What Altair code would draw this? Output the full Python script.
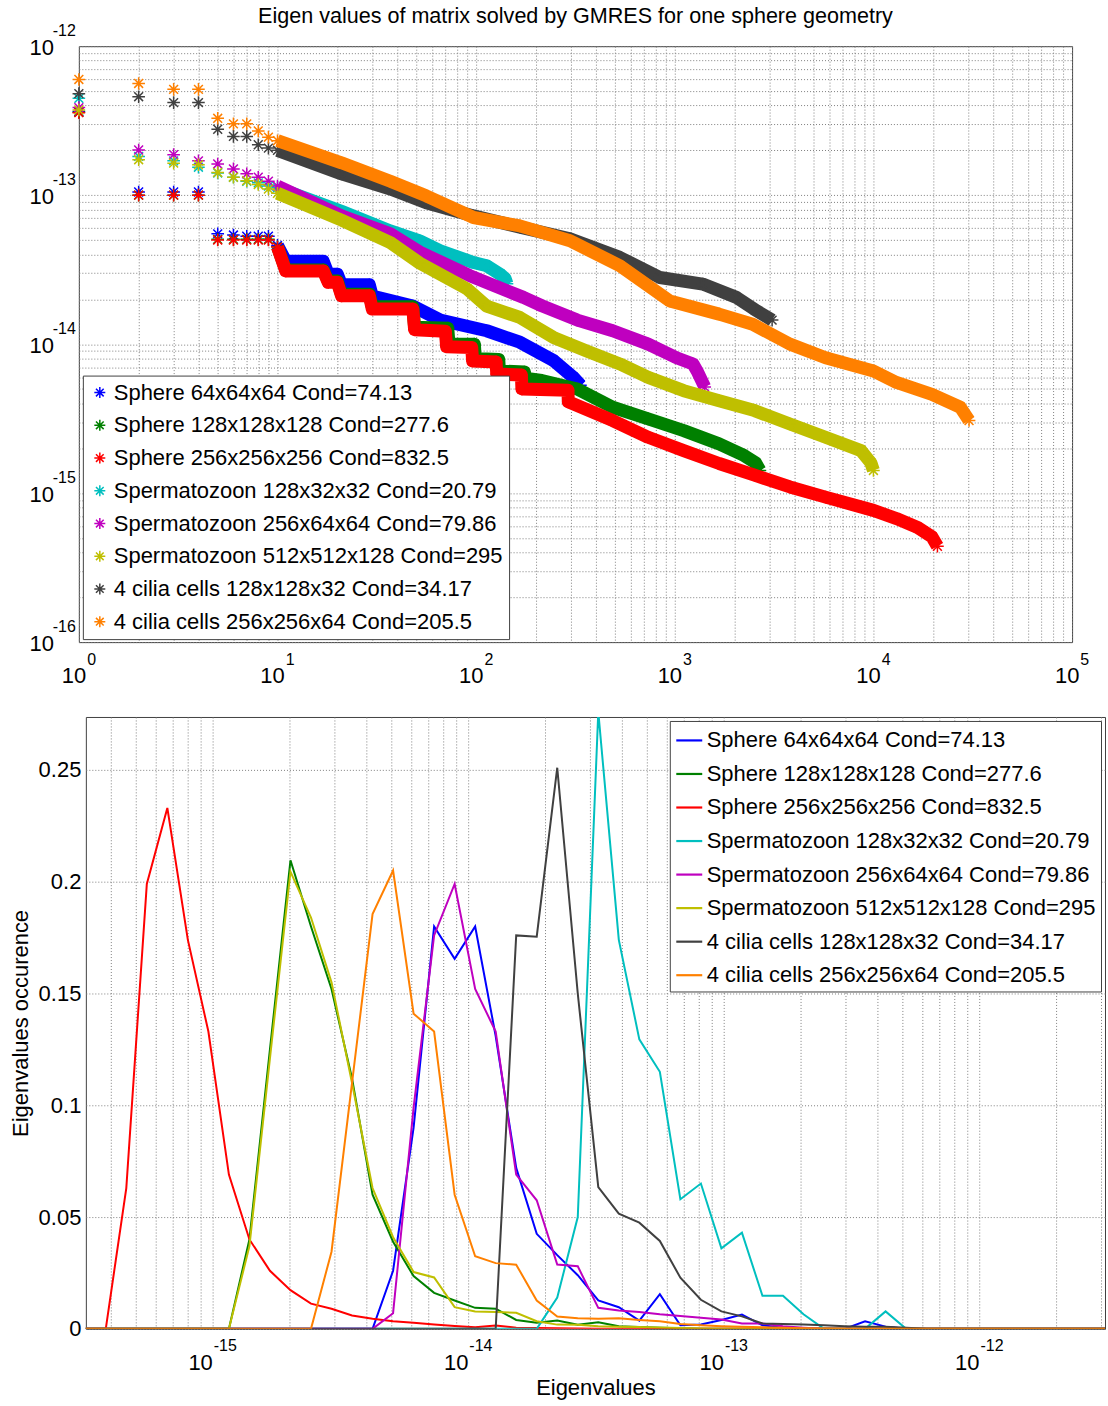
import altair as alt
import pandas as pd

FONT = "Liberation Sans"
TITLE = "Eigen values of matrix solved by GMRES for one sphere geometry"

SERIES = [
    "Sphere 64x64x64 Cond=74.13",
    "Sphere 128x128x128 Cond=277.6",
    "Sphere 256x256x256 Cond=832.5",
    "Spermatozoon 128x32x32 Cond=20.79",
    "Spermatozoon 256x64x64 Cond=79.86",
    "Spermatozoon 512x512x128 Cond=295",
    "4 cilia cells 128x128x32 Cond=34.17",
    "4 cilia cells 256x256x64 Cond=205.5",
]
COLORS = ["#0000ff", "#008000", "#ff0000", "#00bfbf", "#bf00bf", "#bfbf00", "#404040", "#ff8000"]

# ---------------- top panel: sorted eigenvalues (index, value)
IDX_S64 = [1, 2, 3, 4, 5, 6, 7, 8, 9, 10, 11, 17, 18, 20, 21, 29, 30, 48, 66, 113, 166, 245, 308, 335]
VAL_S64 = [3.64e-13, 1.05e-13, 1.05e-13, 1.05e-13, 5.5e-14, 5.4e-14, 5.3e-14, 5.3e-14, 5.3e-14, 4.6e-14,
           3.6e-14, 3.6e-14, 2.95e-14, 2.95e-14, 2.5e-14, 2.5e-14, 2.1e-14, 1.8e-14, 1.45e-14, 1.23e-14,
           1.03e-14, 7.76e-15, 6.0e-15, 5.3e-15]

IDX_S128 = [1, 2, 3, 4, 5, 6, 7, 8, 9, 10, 11, 17, 18, 20, 21, 29, 30, 48, 49, 72, 73, 98, 99, 130, 131,
            175, 176, 214, 323, 487, 735, 1109, 1672, 2230, 2550, 2683]
VAL_S128 = [3.6e-13, 1.0e-13, 1.0e-13, 1.0e-13, 5.05e-14, 5.05e-14, 5.05e-14, 5.05e-14, 5.05e-14, 4.5e-14,
            3.15e-14, 3.15e-14, 2.65e-14, 2.65e-14, 2.16e-14, 2.16e-14, 1.78e-14, 1.78e-14, 1.3e-14, 1.28e-14,
            1.0e-14, 1.0e-14, 8.0e-15, 7.9e-15, 6.6e-15, 6.5e-15, 5.9e-15, 5.7e-15, 5.0e-15, 3.77e-15,
            3.15e-15, 2.63e-15, 2.14e-15, 1.79e-15, 1.6e-15, 1.42e-15]

IDX_S256 = [1, 2, 3, 4, 5, 6, 7, 8, 9, 10, 11, 17, 18, 20, 21, 29, 30, 48, 49, 70, 71, 95, 96, 126, 127,
            169, 170, 290, 291, 487, 735, 1109, 1672, 2520, 3800, 5740, 10000, 13060, 16700, 19700, 21000]
VAL_S256 = [3.58e-13, 1.0e-13, 1.0e-13, 1.0e-13, 5.0e-14, 5.0e-14, 5.0e-14, 5.0e-14, 5.0e-14, 4.48e-14,
            3.1e-14, 3.1e-14, 2.6e-14, 2.6e-14, 2.11e-14, 2.11e-14, 1.72e-14, 1.72e-14, 1.25e-14, 1.22e-14,
            9.6e-15, 9.5e-15, 7.7e-15, 7.6e-15, 6.3e-15, 6.2e-15, 5.0e-15, 4.9e-15, 4.1e-15, 3.07e-15,
            2.37e-15, 1.93e-15, 1.58e-15, 1.32e-15, 1.1e-15, 9.4e-16, 7.66e-16, 6.75e-16, 5.88e-16, 5.1e-16,
            4.4e-16]

IDX_SP128 = [1, 2, 3, 4, 5, 6, 7, 8, 9, 10, 21, 37, 52, 66, 97, 113, 132, 140, 143]
VAL_SP128 = [4.47e-13, 1.82e-13, 1.7e-13, 1.54e-13, 1.41e-13, 1.32e-13, 1.24e-13, 1.21e-13, 1.15e-13, 1.12e-13,
             7.8e-14, 5.75e-14, 4.93e-14, 4.23e-14, 3.53e-14, 3.36e-14, 2.95e-14, 2.75e-14, 2.54e-14]

IDX_SP256 = [1, 2, 3, 4, 5, 6, 7, 8, 9, 10, 21, 37, 52, 93, 173, 214, 323, 487, 735, 1020, 1236, 1306, 1415]
VAL_SP256 = [3.87e-13, 2.01e-13, 1.87e-13, 1.7e-13, 1.62e-13, 1.5e-13, 1.39e-13, 1.32e-13, 1.24e-13, 1.15e-13,
             7.26e-14, 5.5e-14, 4.15e-14, 2.88e-14, 2.06e-14, 1.81e-14, 1.45e-14, 1.23e-14, 1.0e-14, 8.1e-15,
             7.36e-15, 6.46e-15, 5.15e-15]

IDX_SP512 = [1, 2, 3, 4, 5, 6, 7, 8, 9, 10, 21, 37, 52, 90, 113, 166, 245, 360, 529, 735, 1109, 1672, 2520,
             3800, 5740, 8660, 9700, 10000]
VAL_SP512 = [3.73e-13, 1.73e-13, 1.64e-13, 1.6e-13, 1.42e-13, 1.32e-13, 1.25e-13, 1.18e-13, 1.1e-13, 1.03e-13,
             6.8e-14, 4.8e-14, 3.5e-14, 2.35e-14, 1.8e-14, 1.51e-14, 1.11e-14, 9.0e-15, 7.36e-15, 5.98e-15,
             4.87e-15, 4.17e-15, 3.58e-15, 2.91e-15, 2.37e-15, 1.93e-15, 1.6e-15, 1.42e-15]

IDX_C128 = [1, 2, 3, 4, 5, 6, 7, 8, 9, 10, 21, 37, 56, 97, 166, 297, 529, 841, 1383, 2042, 2520, 3090]
VAL_C128 = [4.8e-13, 4.58e-13, 4.18e-13, 4.18e-13, 2.77e-13, 2.48e-13, 2.48e-13, 2.18e-13, 2.07e-13, 2.0e-13,
            1.39e-13, 1.1e-13, 8.9e-14, 7.26e-14, 6.1e-14, 5.1e-14, 3.82e-14, 2.8e-14, 2.53e-14, 2.06e-14,
            1.71e-14, 1.45e-14]

IDX_C256 = [1, 2, 3, 4, 5, 6, 7, 8, 9, 10, 21, 37, 56, 97, 166, 297, 529, 944, 1672, 2466, 3800, 5740,
            10000, 13060, 19700, 27370, 30300]
VAL_C256 = [5.98e-13, 5.62e-13, 5.13e-13, 5.13e-13, 3.28e-13, 3.01e-13, 3.01e-13, 2.7e-13, 2.45e-13, 2.32e-13,
            1.65e-13, 1.24e-13, 9.9e-14, 7.08e-14, 6.22e-14, 4.94e-14, 3.36e-14, 1.95e-14, 1.59e-14, 1.36e-14,
            1.0e-14, 8.1e-15, 6.6e-15, 5.53e-15, 4.6e-15, 3.77e-15, 3.07e-15]

TOP_IDX = [IDX_S64, IDX_S128, IDX_S256, IDX_SP128, IDX_SP256, IDX_SP512, IDX_C128, IDX_C256]
TOP_VAL = [VAL_S64, VAL_S128, VAL_S256, VAL_SP128, VAL_SP256, VAL_SP512, VAL_C128, VAL_C256]

TOP_X_TICKS = [1, 10, 100, 1000, 10000, 100000]
TOP_X_EXP = ["0", "1", "2", "3", "4", "5"]
TOP_Y_TICKS = [1e-12, 1e-13, 1e-14, 1e-15, 1e-16]
TOP_Y_EXP = ["-12", "-13", "-14", "-15", "-16"]

# ---------------- bottom panel: histogram of log10(eigenvalue), regular log bins
BIN_LOG_START = -15.418   # centre of bin k = 0
BIN_LOG_STEP = 0.0803
BIN_K_MIN, BIN_K_MAX = -2, 50

HIST_S64_FIRST = 13
HIST_S64 = [0, 0.026, 0.09, 0.18, 0.1655, 0.18, 0.131, 0.072, 0.0425, 0.033, 0.024, 0.0127, 0.0097, 0.0037,
            0.0155, 0.0016, 0.002, 0.004, 0.0064, 0.0016, 0.0005, 0.0003, 0.0002, 0, 0.0034, 0.001, 0]
HIST_S128_FIRST = 6
HIST_S128 = [0, 0.040, 0.125, 0.2096, 0.18, 0.152, 0.112, 0.060, 0.039, 0.0236, 0.0161, 0.0127, 0.0094, 0.009,
             0.004, 0.0027, 0.0037, 0.0019, 0.003, 0.0012, 0.0008, 0.0005, 0.0003, 0]
HIST_S256_FIRST = 0
HIST_S256 = [0, 0.063, 0.199, 0.233, 0.174, 0.133, 0.069, 0.040, 0.026, 0.0173, 0.0113, 0.009, 0.006, 0.0045,
             0.0034, 0.0027, 0.0019, 0.0013, 0.0007, 0.0015, 0.0005, 0.0004, 0.0003, 0.0002, 0.0001, 0]
HIST_SP128_FIRST = 21
HIST_SP128 = [0, 0.014, 0.050, 0.276, 0.174, 0.1295, 0.115, 0.058, 0.065, 0.036, 0.043, 0.0148, 0.0148, 0.0065,
              0, 0, 0, 0.0078, 0]
HIST_SP256_FIRST = 13
HIST_SP256 = [0, 0.007, 0.099, 0.176, 0.199, 0.152, 0.133, 0.069, 0.0575, 0.0288, 0.028, 0.0094, 0.0082, 0.0075,
              0.0065, 0.0058, 0.005, 0.0042, 0.0024, 0.0024, 0.0012, 0.0005, 0]
HIST_SP512_FIRST = 6
HIST_SP512 = [0, 0.037, 0.121, 0.2045, 0.184, 0.155, 0.11, 0.063, 0.041, 0.0254, 0.023, 0.0097, 0.0078, 0.0075,
              0.0072, 0.0034, 0.0019, 0.0018, 0.0012, 0.001, 0.0008, 0.0006, 0.0004, 0.0002, 0]
HIST_C128_FIRST = 19
HIST_C128 = [0, 0.176, 0.1754, 0.251, 0.15, 0.0634, 0.0515, 0.0475, 0.0393, 0.0229, 0.013, 0.0078, 0.0056,
             0.0024, 0.0022, 0.0019, 0.0016, 0.0012, 0.001, 0.001, 0.0005, 0]
HIST_C256_FIRST = 10
HIST_C256 = [0, 0.0345, 0.11, 0.1855, 0.205, 0.141, 0.133, 0.060, 0.0325, 0.0294, 0.0287, 0.0127, 0.0055,
             0.0048, 0.0045, 0.0048, 0.004, 0.0034, 0.0022, 0.0016, 0.0012, 0.0009, 0.0007, 0.0005, 0.0003,
             0.0002, 0.0001, 0]

HIST_FIRST = [HIST_S64_FIRST, HIST_S128_FIRST, HIST_S256_FIRST, HIST_SP128_FIRST, HIST_SP256_FIRST,
              HIST_SP512_FIRST, HIST_C128_FIRST, HIST_C256_FIRST]
HIST_VALS = [HIST_S64, HIST_S128, HIST_S256, HIST_SP128, HIST_SP256, HIST_SP512, HIST_C128, HIST_C256]

BOT_X_TICKS = [1e-15, 1e-14, 1e-13, 1e-12]
BOT_X_EXP = ["-15", "-14", "-13", "-12"]
BOT_Y_TICKS = [0, 0.05, 0.1, 0.15, 0.2, 0.25]

# ---------------- layout / style
TOP_W, TOP_H = 995, 597
BOT_W, BOT_H = 1021, 613
GRID_COLOR = "#7f7f7f"
GRID_DASH = [1, 2]
ASTERISK = "M-1,0L1,0M0,-1L0,1M-0.7,-0.7L0.7,0.7M-0.7,0.7L0.7,-0.7"

top_x_grid = [m * 10 ** e for e in range(0, 5) for m in range(1, 10)] + [100000]
top_y_grid = [m * 10.0 ** e for e in range(-16, -12) for m in range(1, 10)] + [1e-12]
bot_lo, bot_hi = 10 ** -15.496, 10 ** -11.508
bot_x_grid = [m * 10.0 ** e for e in range(-16, -11) for m in range(1, 10)
              if bot_lo <= m * 10.0 ** e <= bot_hi]

color_scale = alt.Scale(domain=SERIES, range=COLORS)

X_TOP = alt.X("idx:Q", scale=alt.Scale(type="log", domain=[1, 100000]),
              axis=alt.Axis(values=top_x_grid, labels=False, ticks=False, domain=False, grid=True,
                            gridColor=GRID_COLOR, gridDash=GRID_DASH, gridWidth=1, title=None))
Y_TOP = alt.Y("val:Q", scale=alt.Scale(type="log", domain=[1e-16, 1e-12]),
              axis=alt.Axis(values=top_y_grid, labels=False, ticks=False, domain=False, grid=True,
                            gridColor=GRID_COLOR, gridDash=GRID_DASH, gridWidth=1, title=None))
LEG_TOP = alt.Legend(title=None, orient="none", legendX=4, legendY=330, symbolType=ASTERISK, symbolSize=121,
                     symbolStrokeWidth=1.5, symbolFillColor="transparent", labelFont=FONT, labelFontSize=22,
                     labelColor="black", labelLimit=700, labelOffset=3, rowPadding=10.8, padding=6,
                     fillColor="white", strokeColor="#404040")
C_TOP = alt.Color("series:N", scale=color_scale, legend=LEG_TOP)

top_layers = []
for name, idxs, vals in zip(SERIES, TOP_IDX, TOP_VAL):
    df = pd.DataFrame({"idx": idxs, "val": vals, "series": name})
    band = df[df["idx"] >= 10]
    top_layers.append(
        alt.Chart(band).mark_line(strokeWidth=13, strokeJoin="round", strokeCap="butt", opacity=1)
        .encode(x=X_TOP, y=Y_TOP, color=C_TOP)
    )
    top_layers.append(
        alt.Chart(df).mark_point(shape=ASTERISK, size=160, filled=False, strokeWidth=1.5, opacity=1)
        .encode(x=X_TOP, y=Y_TOP, color=C_TOP)
    )

tx = pd.DataFrame({"idx": TOP_X_TICKS, "base": "10", "exp": TOP_X_EXP})
ty = pd.DataFrame({"val": TOP_Y_TICKS, "base": "10", "exp": TOP_Y_EXP})
tt = pd.DataFrame({"t": [TITLE]})
top_layers += [
    alt.Chart(tx).mark_text(align="right", baseline="alphabetic", dx=7.3, font=FONT, fontSize=22, color="black")
    .encode(x=X_TOP, y=alt.value(TOP_H + 41), text="base:N"),
    alt.Chart(tx).mark_text(align="left", baseline="alphabetic", dx=8.3, font=FONT, fontSize=16, color="black")
    .encode(x=X_TOP, y=alt.value(TOP_H + 23), text="exp:N"),
    alt.Chart(ty).mark_text(align="right", baseline="alphabetic", dy=8.5, font=FONT, fontSize=22, color="black")
    .encode(x=alt.value(-25), y=Y_TOP, text="base:N"),
    alt.Chart(ty).mark_text(align="right", baseline="alphabetic", dy=-10, font=FONT, fontSize=16, color="black")
    .encode(x=alt.value(-3), y=Y_TOP, text="exp:N"),
    alt.Chart(tt).mark_text(align="center", baseline="alphabetic", font=FONT, fontSize=21.6, color="black")
    .encode(x=alt.value(TOP_W / 2), y=alt.value(-23), text="t:N"),
]

top = alt.layer(*top_layers).properties(width=TOP_W, height=TOP_H)

# ---------------- bottom chart
X_BOT = alt.X("ev:Q", scale=alt.Scale(type="log", domain=[bot_lo, bot_hi]),
              axis=alt.Axis(values=bot_x_grid, labels=False, ticks=False, domain=False, grid=True,
                            gridColor=GRID_COLOR, gridDash=GRID_DASH, gridWidth=1, title="Eigenvalues",
                            titleFont=FONT, titleFontSize=22, titleFontWeight="normal", titleColor="black",
                            titleY=66, titleBaseline="alphabetic"))
Y_BOT = alt.Y("occ:Q", scale=alt.Scale(domain=[0, 0.2737], nice=False, zero=True),
              axis=alt.Axis(values=BOT_Y_TICKS, format="~g", labelFont=FONT, labelFontSize=22,
                            labelColor="black", labelPadding=5, ticks=False, domain=False, grid=True,
                            gridColor=GRID_COLOR, gridDash=GRID_DASH, gridWidth=1,
                            title="Eigenvalues occurence", titleFont=FONT, titleFontSize=22,
                            titleFontWeight="normal", titleColor="black", titleX=-58, titleAngle=270,
                            titleBaseline="alphabetic"))
LEG_BOT = alt.Legend(title=None, orient="none", legendX=592, legendY=4, symbolType="stroke", symbolSize=676,
                     symbolStrokeWidth=2.2, labelFont=FONT, labelFontSize=22, labelColor="black",
                     labelLimit=700, labelOffset=3, rowPadding=7.6, padding=5, fillColor="white",
                     strokeColor="#404040")
C_BOT = alt.Color("series:N", scale=color_scale, legend=LEG_BOT)

bot_layers = []
for name, first, vals in zip(SERIES, HIST_FIRST, HIST_VALS):
    rows = []
    for k in range(BIN_K_MIN, BIN_K_MAX + 1):
        j = k - first
        v = vals[j] if 0 <= j < len(vals) else 0.0
        rows.append({"ev": 10 ** (BIN_LOG_START + BIN_LOG_STEP * k), "occ": v, "series": name})
    df = pd.DataFrame(rows)
    bot_layers.append(
        alt.Chart(df).mark_line(strokeWidth=2, clip=True, opacity=1).encode(x=X_BOT, y=Y_BOT, color=C_BOT)
    )

bx = pd.DataFrame({"ev": BOT_X_TICKS, "base": "10", "exp": BOT_X_EXP})
bot_layers += [
    alt.Chart(bx).mark_text(align="right", baseline="alphabetic", dx=0.2, font=FONT, fontSize=22, color="black")
    .encode(x=X_BOT, y=alt.value(BOT_H + 41.7), text="base:N"),
    alt.Chart(bx).mark_text(align="left", baseline="alphabetic", dx=1.2, font=FONT, fontSize=16, color="black")
    .encode(x=X_BOT, y=alt.value(BOT_H + 22), text="exp:N"),
]
bottom = alt.layer(*bot_layers).properties(width=BOT_W, height=BOT_H)

spacer = alt.Chart(pd.DataFrame({"s": [0]})).mark_point(opacity=0, size=1).encode(
    x=alt.X("s:Q", axis=None), y=alt.Y("s:Q", axis=None)
).properties(width=1, height=1, view=alt.ViewBackground(strokeOpacity=0))

chart = alt.vconcat(
    top,
    alt.hconcat(spacer, bottom, spacing=6, bounds="flush"),
    spacing=75, bounds="flush",
).resolve_scale(x="independent", y="independent", color="independent").resolve_legend(
    color="independent"
).properties(
    padding={"left": 9, "top": 4, "right": 2, "bottom": 0}, background="white"
).configure_view(stroke="#404040", strokeWidth=1)

chart.save("out.html", embed_options={"renderer": "svg", "actions": False})
